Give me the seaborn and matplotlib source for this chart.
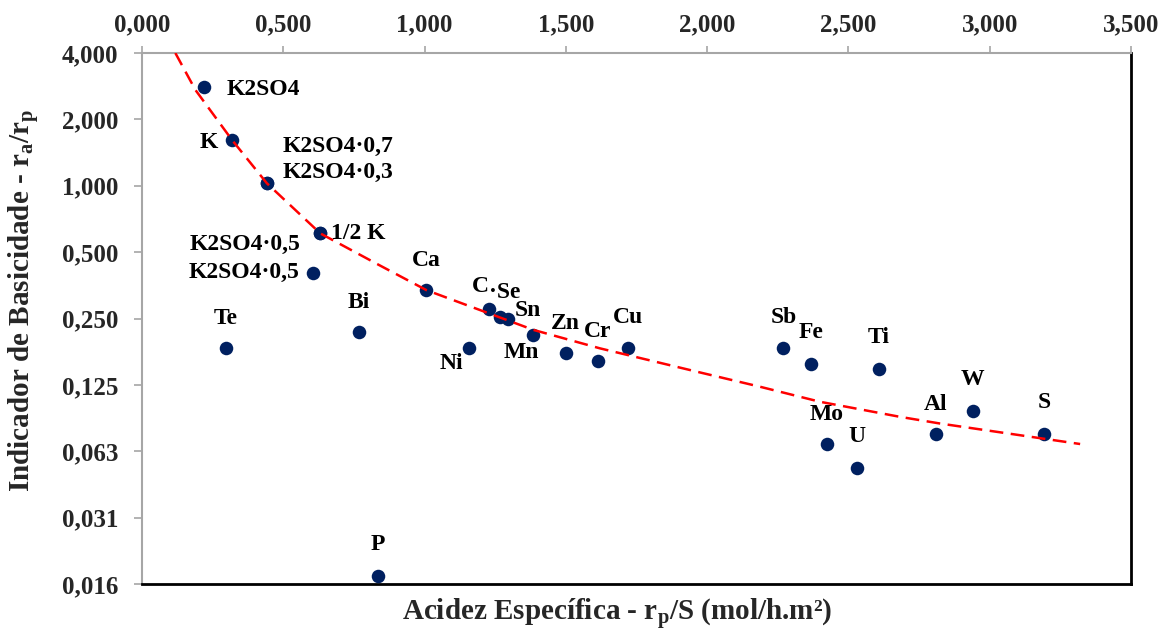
import matplotlib
matplotlib.use('Agg')
import matplotlib.pyplot as plt
import seaborn as sns
import pandas as pd
from matplotlib.ticker import FuncFormatter, FixedLocator

# ---------------- data ----------------
labels = ["K2SO4", "K", "K2SO4·0,7", "K2SO4·0,3", "1/2 K", "K2SO4·0,5", "K2SO4·0,5",
          "Ca", "Te", "Bi", "Ni", "C", "·Se", "Sn", "Mn", "Zn", "Cr", "Cu",
          "Sb", "Fe", "Ti", "Mo", "U", "Al", "W", "S", "P"]
acidez = [0.221, 0.320, 0.441, 0.441, 0.630, 0.630, 0.604,
          1.005, 0.297, 0.767, 1.158, 1.228, 1.267, 1.296, 1.385, 1.500, 1.615, 1.721,
          2.270, 2.368, 2.608, 2.423, 2.529, 2.809, 2.940, 3.192, 0.834]
basicidade = [2.81, 1.61, 1.026, 1.026, 0.608, 0.608, 0.400,
              0.336, 0.183, 0.216, 0.183, 0.277, 0.255, 0.248, 0.210, 0.175, 0.160, 0.183,
              0.183, 0.156, 0.147, 0.0674, 0.0527, 0.0746, 0.0953, 0.0749, 0.0170]

trend_x = [0.118, 0.189, 0.319, 0.442, 0.631, 0.836, 1.007, 1.385, 1.621,
           1.975, 2.187, 2.399, 2.683, 2.824, 3.320]
trend_y = [4.00, 2.72, 1.61, 1.026, 0.608, 0.439, 0.336, 0.222, 0.183,
           0.1423, 0.1226, 0.1048, 0.0895, 0.0835, 0.0674]

x_ticks = [0.0, 0.5, 1.0, 1.5, 2.0, 2.5, 3.0, 3.5]
y_ticks = [0.015625, 0.03125, 0.0625, 0.125, 0.25, 0.5, 1.0, 2.0, 4.0]

x_label = "Acidez Específica - r$_{p}$/S (mol/h.m²)"
y_label = "Indicador de Basicidade - r$_{a}$/r$_{p}$"

# label layout: (dx px, dy px upward, horizontal alignment)
label_layout = [(22, -3, 'left'), (-14, -2, 'right'), (16, 37, 'left'), (16, 11, 'left'),
                (11, 0, 'left'), (-20, -11, 'right'), (-13, 1, 'right'),
                (0, 30, 'center'), (0, 30, 'center'), (0, 30, 'center'), (-18, -15, 'center'),
                (-9, 22, 'center'), (5, 24, 'center'), (20, 9, 'center'), (-12, -17, 'center'),
                (0, 29, 'center'), (-1, 30, 'center'), (0, 31, 'center'),
                (0, 31, 'center'), (0, 31, 'center'), (0, 32, 'center'), (0, 30, 'center'),
                (0, 31, 'center'), (0, 30, 'center'), (0, 31, 'center'), (0, 31, 'center'),
                (0, 31, 'center')]

df = pd.DataFrame({"label": labels, "acidez": acidez, "basicidade": basicidade})
trend = pd.DataFrame({"x": trend_x, "y": trend_y})

# ---------------- style ----------------
sns.set_style("white")
plt.rcParams['font.family'] = ['Liberation Serif', 'DejaVu Serif']
plt.rcParams['font.weight'] = 'bold'
plt.rcParams['mathtext.fontset'] = 'custom'
plt.rcParams['mathtext.rm'] = 'Liberation Serif:bold'
plt.rcParams['mathtext.bf'] = 'Liberation Serif:bold'
plt.rcParams['mathtext.it'] = 'Liberation Serif:bold'
plt.rcParams['mathtext.default'] = 'bf'

fig = plt.figure(figsize=(11.72, 6.35), dpi=100)
ax = fig.add_axes([142 / 1172, 1 - 584 / 635, 989 / 1172, 531 / 635])

sns.scatterplot(data=df, x="acidez", y="basicidade", ax=ax, color="#002060",
                s=95, linewidth=0, zorder=3, legend=False)
sns.lineplot(data=trend, x="x", y="y", ax=ax, sort=False, color="#FF0000",
             linewidth=1.8, zorder=4, legend=False)
ax.lines[-1].set_dashes((5.5, 3))

ax.set_yscale('log', base=2)
ax.set_xlim(0, 3.5)
ax.set_ylim(y_ticks[0], y_ticks[-1])


def fmt(v, pos=None):
    return f"{v + 1e-9:.3f}".replace('.', ',')


ax.xaxis.set_major_locator(FixedLocator(x_ticks))
ax.yaxis.set_major_locator(FixedLocator(y_ticks))
ax.yaxis.set_minor_locator(FixedLocator([]))
ax.xaxis.set_major_formatter(FuncFormatter(fmt))
ax.yaxis.set_major_formatter(FuncFormatter(fmt))

ax.xaxis.tick_top()
ax.xaxis.set_label_position('bottom')
ax.tick_params(axis='x', which='both', top=True, bottom=False, labeltop=True,
               labelbottom=False, direction='out', length=5, width=1.2,
               color='#A6A6A6', pad=7, labelsize=18)
ax.tick_params(axis='y', which='major', left=True, direction='out', length=6,
               width=1.2, color='#A6A6A6', pad=11, labelsize=18)
ax.tick_params(axis='y', which='minor', left=False)

for side in ['left', 'top']:
    ax.spines[side].set_color('#A6A6A6')
    ax.spines[side].set_linewidth(1.5)
for side in ['right', 'bottom']:
    ax.spines[side].set_color('black')
    ax.spines[side].set_linewidth(2)
    ax.spines[side].set_visible(True)

ax.set_xlabel(x_label, fontsize=21, fontweight='bold')
ax.set_ylabel(y_label, fontsize=21, fontweight='bold')
ax.xaxis.set_label_coords((617.5 - 142) / 989, (584 - 615) / 531)
ax.yaxis.set_label_coords((25 - 142) / 989, (584 - 300) / 531)
ax.xaxis.label.set_va('center')
ax.yaxis.label.set_va('center')

for (lab, xv, yv), (dx, dy, ha) in zip(zip(labels, acidez, basicidade), label_layout):
    ax.annotate(lab, (xv, yv), xytext=(dx, dy), textcoords='offset pixels',
                ha=ha, va='center', fontsize=17, fontweight='bold', color='black',
                zorder=5)

fig.savefig("out.png", dpi=100)
